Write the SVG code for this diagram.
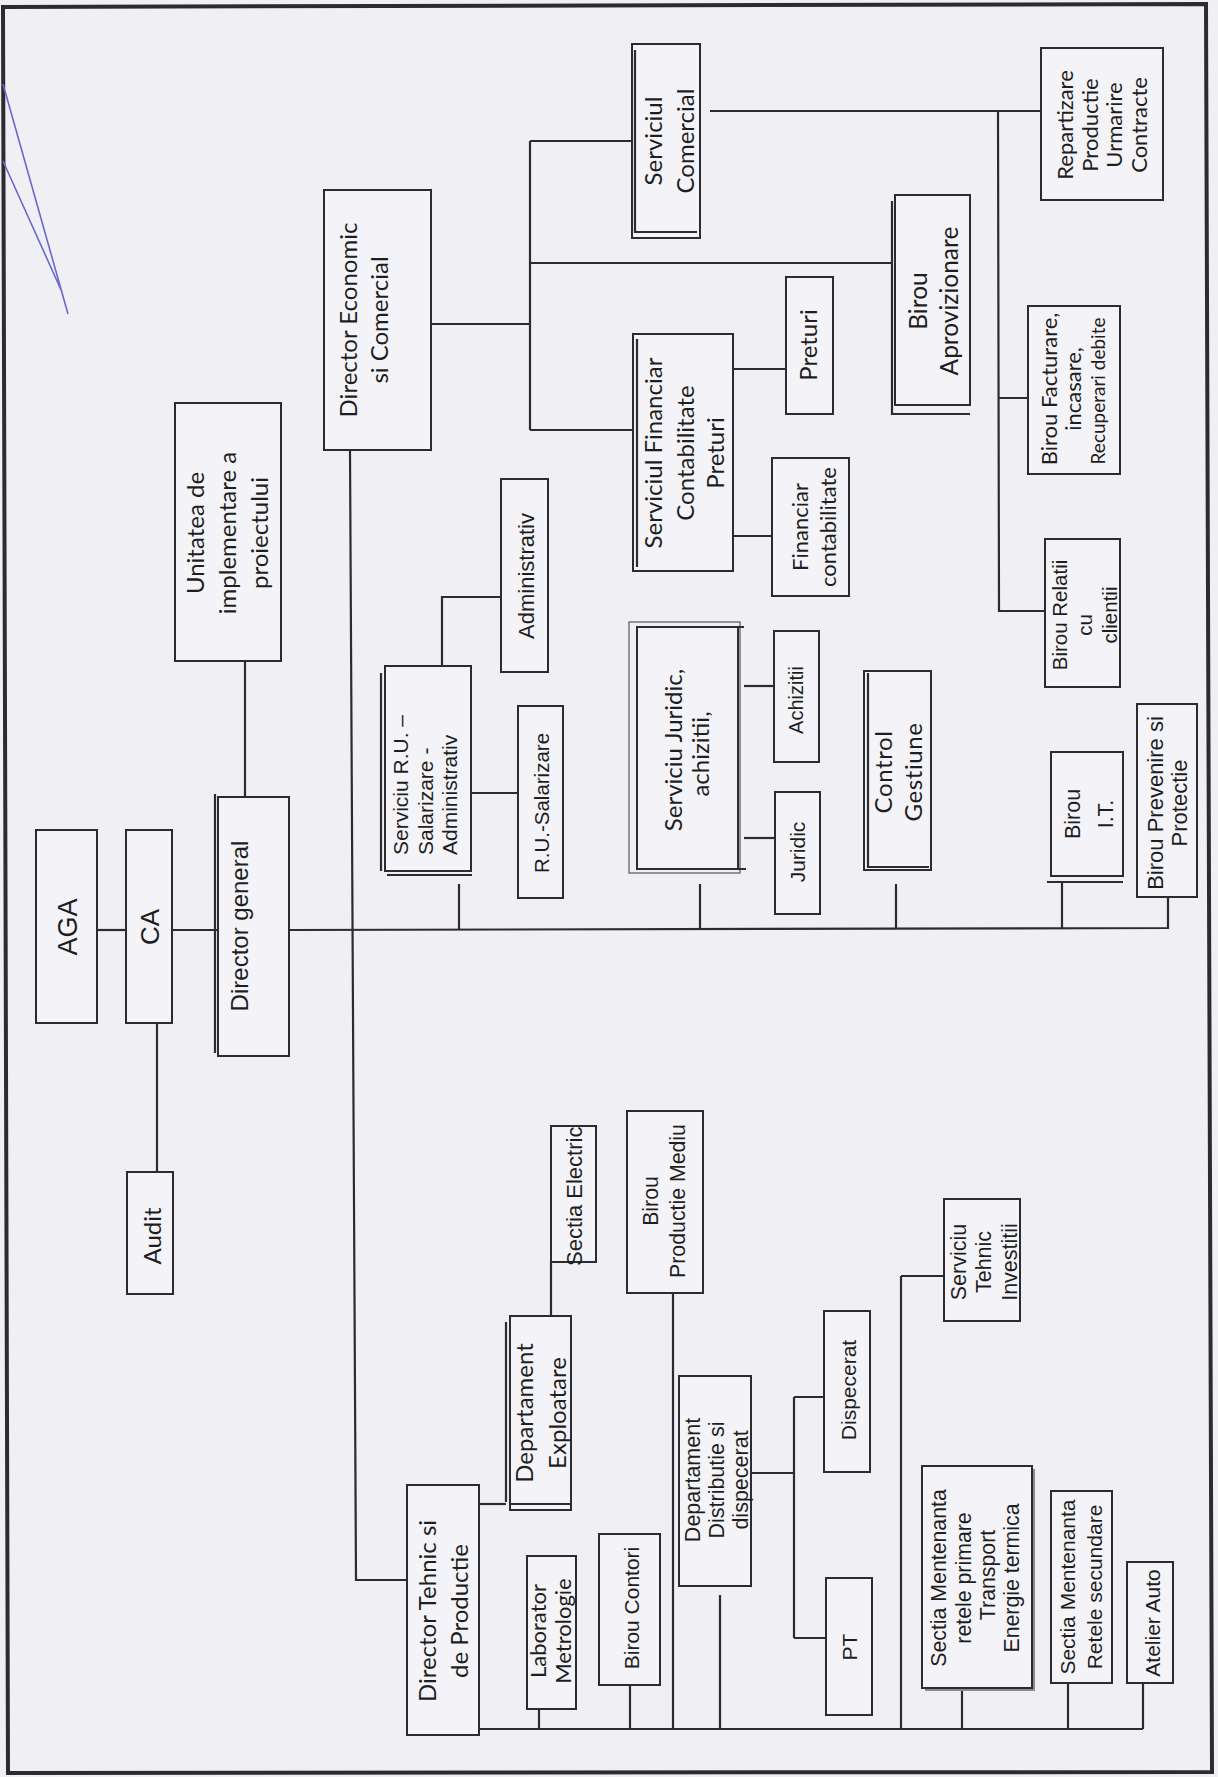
<svg xmlns="http://www.w3.org/2000/svg" width="1218" height="1777" viewBox="0 0 1218 1777">
<defs>
<style>
.bg{fill:#efeff4}
.box{fill:#f4f4f8;stroke:#2b2b30;stroke-width:2}
.thin{fill:none;stroke:#55555a;stroke-width:1.2}
.ln{fill:none;stroke:#2b2b30;stroke-width:2.2}
.ar{font-family:"Liberation Sans",Arial,sans-serif;fill:#1e1e22;text-anchor:middle}
.cb{font-family:Lato,"Open Sans",sans-serif;fill:#1e1e22;text-anchor:middle}
.st{text-anchor:start}
</style>
<clipPath id="clipSE" clipPathUnits="userSpaceOnUse"><rect x="551" y="1127" width="45" height="140"/></clipPath>
</defs>
<rect class="bg" x="0" y="0" width="1218" height="1777"/>
<polygon points="3,7 1206,4 1212,1772 8,1773" fill="none" stroke="#2b2b30" stroke-width="4"/>
<path d="M3,84 L68,314 M3,161 L62,292" fill="none" stroke="#6b68cf" stroke-width="1.6"/>

<g id="connectors">
<path class="ln" d="M97,930 H126"/>
<path class="ln" d="M172,930 H218"/>
<path class="ln" d="M157,1023 V1172"/>
<path class="ln" d="M245,661 V797"/>
<path class="ln" d="M290,930 L1168,928 V897"/>
<path class="ln" d="M459,884 V929"/>
<path class="ln" d="M700,884 V928"/>
<path class="ln" d="M896,884 V928"/>
<path class="ln" d="M1062,882 V928"/>
<path class="ln" d="M442,666 V597 H501"/>
<path class="ln" d="M472,793 H518"/>
<path class="ln" d="M744,686 H774"/>
<path class="ln" d="M744,838 H775"/>
<path class="ln" d="M350,450 L356,1580 H407"/>
<path class="ln" d="M425,324 H530 M530,141 V430 M530,141 H632 M530,263 H892 M530,430 H633"/>
<path class="ln" d="M727,369 H786"/>
<path class="ln" d="M729,536 H772"/>
<path class="ln" d="M710,111 H1041 M998,111 L999,611 H1045 M998,398 H1028"/>
<path class="ln" d="M479,1504 H506"/>
<path class="ln" d="M551,1316 V1262"/>
<path class="ln" d="M479,1729 H1143"/>
<path class="ln" d="M539,1709 V1729"/>
<path class="ln" d="M630,1685 V1729"/>
<path class="ln" d="M673,1292 V1729"/>
<path class="ln" d="M720,1595 V1729"/>
<path class="ln" d="M751,1473 H794 M794,1397 V1638 M794,1397 H824 M794,1638 H827"/>
<path class="ln" d="M901,1276 V1729 M901,1276 H944"/>
<path class="ln" d="M962,1688 V1729"/>
<path class="ln" d="M1068,1683 V1729"/>
<path class="ln" d="M1143,1683 V1729"/>
</g>

<g id="aga"><rect class="box" x="36" y="830" width="61" height="193"/>
<text class="ar" font-size="27" transform="translate(77,927) rotate(-90)">AGA</text></g>

<g id="ca"><rect class="box" x="126" y="830" width="46" height="193"/>
<text class="ar" font-size="26" transform="translate(159,927) rotate(-90)">CA</text></g>

<g id="audit"><rect class="box" x="127" y="1172" width="46" height="122"/>
<text class="cb" font-size="24" transform="translate(161,1236) rotate(-90)">Audit</text></g>

<g id="director-general"><rect class="box" x="218" y="797" width="71" height="259"/>
<path class="ln" d="M215,794 V1053"/>
<text class="ar" font-size="24" transform="translate(248,926) rotate(-90)">Director general</text></g>

<g id="unitatea"><rect class="box" x="175" y="403" width="106" height="258"/>
<text class="cb" font-size="24" transform="translate(204,533) rotate(-90)"><tspan x="0" y="0">Unitatea de</tspan><tspan x="0" y="32">implementare a</tspan><tspan x="0" y="64">proiectului</tspan></text></g>

<g id="director-economic"><rect class="box" x="324" y="190" width="107" height="260"/>
<text class="cb" font-size="24" transform="translate(357,320) rotate(-90)"><tspan x="0" y="0">Director Economic</tspan><tspan x="0" y="31">si Comercial</tspan></text></g>

<g id="serviciu-ru"><rect class="box" x="385" y="666" width="86" height="205"/>
<path class="ln" d="M381,673 V871 M387,875 H472" stroke-width="1.6"/>
<text class="ar st" font-size="21" transform="translate(408,855) rotate(-90)"><tspan x="0" y="0">Serviciu R.U. –</tspan><tspan x="0" y="25">Salarizare -</tspan><tspan x="0" y="49">Administrativ</tspan></text></g>

<g id="administrativ"><rect class="box" x="501" y="479" width="47" height="193"/>
<text class="ar" font-size="22" transform="translate(534,576) rotate(-90)">Administrativ</text></g>

<g id="ru-salarizare"><rect class="box" x="518" y="706" width="45" height="192"/>
<text class="ar" font-size="20.5" transform="translate(549,803) rotate(-90)">R.U.-Salarizare</text></g>

<g id="serviciu-juridic"><rect class="thin" x="629" y="622" width="111" height="251"/>
<rect class="box" x="637" y="627" width="101" height="242"/>
<path class="ln" d="M738,627 H744 M738,869 H746" stroke-width="1.6"/>
<text class="cb" font-size="24" transform="translate(682,750) rotate(-90)"><tspan x="0" y="0">Serviciu Juridic,</tspan><tspan x="-4" y="27">achizitii,</tspan></text></g>

<g id="achizitii"><rect class="box" x="774" y="631" width="45" height="131"/>
<text class="ar" font-size="20" transform="translate(803,700) rotate(-90)">Achizitii</text></g>

<g id="juridic"><rect class="box" x="775" y="792" width="45" height="122"/>
<text class="ar" font-size="21" transform="translate(805,852) rotate(-90)">Juridic</text></g>

<g id="control-gestiune"><rect class="box" x="864" y="671" width="67" height="199"/>
<path class="ln" d="M868,673 V867 H929" stroke-width="1.6"/>
<text class="cb" font-size="24" letter-spacing="0.6" transform="translate(892,772) rotate(-90)"><tspan x="0" y="0">Control</tspan><tspan x="0" y="30">Gestiune</tspan></text></g>

<g id="birou-it"><rect class="box" x="1051" y="752" width="72" height="124"/>
<path class="ln" d="M1047,882 H1123" stroke-width="1.8"/>
<text class="ar" font-size="21.5" transform="translate(1080,814) rotate(-90)"><tspan x="0" y="0">Birou</tspan><tspan x="0" y="33">I.T.</tspan></text></g>

<g id="birou-prevenire"><rect class="box" x="1137" y="704" width="60" height="193"/>
<text class="ar" font-size="22" transform="translate(1163,803) rotate(-90)"><tspan x="0" y="0">Birou Prevenire si</tspan><tspan x="0" y="24">Protectie</tspan></text></g>

<g id="serviciul-comercial"><rect class="box" x="632" y="44" width="68" height="194"/>
<path class="ln" d="M635,50 V232 H697" stroke-width="1.6"/>
<text class="cb" font-size="24" transform="translate(662,141) rotate(-90)"><tspan x="0" y="0">Serviciul</tspan><tspan x="0" y="32">Comercial</tspan></text></g>

<g id="serviciul-financiar"><rect class="box" x="633" y="334" width="100" height="237"/>
<path class="ln" d="M637,339 V567" stroke-width="1.6"/>
<text class="cb" font-size="24" transform="translate(662,453) rotate(-90)"><tspan x="0" y="0">Serviciul Financiar</tspan><tspan x="0" y="32">Contabilitate</tspan><tspan x="0" y="62">Preturi</tspan></text></g>

<g id="preturi"><rect class="box" x="786" y="277" width="47" height="137"/>
<text class="cb" font-size="24" transform="translate(817,345) rotate(-90)">Preturi</text></g>

<g id="financiar-contabilitate"><rect class="box" x="772" y="458" width="77" height="138"/>
<text class="cb" font-size="22" transform="translate(808,527) rotate(-90)"><tspan x="0" y="0">Financiar</tspan><tspan x="0" y="28">contabilitate</tspan></text></g>

<g id="birou-aprovizionare"><rect class="box" x="895" y="195" width="75" height="210"/>
<path class="ln" d="M892,201 V414 H970" stroke-width="1.8"/>
<text class="cb" font-size="24.5" transform="translate(927,301) rotate(-90)"><tspan x="0" y="0">Birou</tspan><tspan x="0" y="31">Aprovizionare</tspan></text></g>

<g id="repartizare"><rect class="box" x="1041" y="48" width="122" height="152"/>
<text class="cb" font-size="22" transform="translate(1073,125) rotate(-90)"><tspan x="0" y="0">Repartizare</tspan><tspan x="0" y="24.5">Productie</tspan><tspan x="0" y="49">Urmarire</tspan><tspan x="0" y="73.5">Contracte</tspan></text></g>

<g id="birou-facturare"><rect class="box" x="1028" y="306" width="92" height="168"/>
<text class="cb" font-size="22" transform="translate(1057,389) rotate(-90)"><tspan x="0" y="0">Birou Facturare,</tspan><tspan x="0" y="24">incasare,</tspan></text>
<text class="cb" font-size="19" transform="translate(1105,391) rotate(-90)">Recuperari debite</text></g>

<g id="birou-relatii"><rect class="box" x="1045" y="539" width="75" height="148"/>
<text class="ar" font-size="20.5" transform="translate(1067,615) rotate(-90)"><tspan x="0" y="0">Birou Relatii</tspan><tspan x="-10" y="25">cu</tspan><tspan x="0" y="50">clientii</tspan></text></g>

<g id="director-tehnic"><rect class="box" x="407" y="1485" width="72" height="250"/>
<text class="cb" font-size="24" transform="translate(436,1611) rotate(-90)"><tspan x="0" y="0">Director Tehnic si</tspan><tspan x="0" y="32">de Productie</tspan></text></g>

<g id="departament-exploatare"><rect class="box" x="510" y="1316" width="61" height="194"/>
<path class="ln" d="M506,1322 V1502 M510,1504 H570" stroke-width="1.6"/>
<text class="cb" font-size="24" transform="translate(533,1413) rotate(-90)"><tspan x="0" y="0">Departament</tspan><tspan x="0" y="33">Exploatare</tspan></text></g>

<g id="sectia-electric"><rect class="box" x="551" y="1126" width="45" height="136"/>
<g clip-path="url(#clipSE)"><text class="ar st" font-size="22" transform="translate(582,1266) rotate(-90)">Sectia Electric</text></g></g>

<g id="birou-productie-mediu"><rect class="box" x="627" y="1111" width="76" height="182"/>
<text class="ar" font-size="21.3" transform="translate(658,1201) rotate(-90)"><tspan x="0" y="0">Birou</tspan><tspan x="0" y="27">Productie Mediu</tspan></text></g>

<g id="laborator-metrologie"><rect class="box" x="527" y="1556" width="49" height="153"/>
<text class="cb" font-size="22" transform="translate(546,1631) rotate(-90)"><tspan x="0" y="0">Laborator</tspan><tspan x="0" y="25">Metrologie</tspan></text></g>

<g id="birou-contori"><rect class="box" x="599" y="1534" width="61" height="151"/>
<text class="ar" font-size="21" transform="translate(639,1608) rotate(-90)">Birou Contori</text></g>

<g id="departament-distributie"><rect class="box" x="679" y="1376" width="72" height="210"/>
<text class="ar" font-size="21.5" transform="translate(700,1480) rotate(-90)"><tspan x="0" y="0">Departament</tspan><tspan x="0" y="24">Distributie si</tspan><tspan x="0" y="48">dispecerat</tspan></text></g>

<g id="dispecerat"><rect class="box" x="824" y="1311" width="46" height="161"/>
<text class="ar" font-size="21" transform="translate(856,1390) rotate(-90)">Dispecerat</text></g>

<g id="pt"><rect class="box" x="826" y="1578" width="46" height="137"/>
<text class="ar" font-size="21" transform="translate(857,1647) rotate(-90)">PT</text></g>

<g id="serviciu-tehnic"><rect class="box" x="944" y="1199" width="76" height="122"/>
<text class="ar" font-size="21.5" transform="translate(966,1262) rotate(-90)"><tspan x="0" y="0">Serviciu</tspan><tspan x="0" y="25">Tehnic</tspan><tspan x="0" y="51">Investitii</tspan></text></g>

<g id="sectia-mentenanta-primare"><rect class="box" x="922" y="1466" width="110" height="222"/>
<path d="M1034,1469 V1690 H925" fill="none" stroke="#8a8a90" stroke-width="2"/>
<text class="ar" font-size="21.3" transform="translate(946,1578) rotate(-90)"><tspan x="0" y="0">Sectia Mentenanta</tspan><tspan x="0" y="24.5">retele primare</tspan><tspan x="3" y="48.5">Transport</tspan><tspan x="0" y="73">Energie termica</tspan></text></g>

<g id="sectia-mentenanta-secundare"><rect class="box" x="1051" y="1491" width="61" height="192"/>
<text class="ar" font-size="21" transform="translate(1075,1587) rotate(-90)"><tspan x="0" y="0">Sectia Mentenanta</tspan><tspan x="0" y="27">Retele secundare</tspan></text></g>

<g id="atelier-auto"><rect class="box" x="1127" y="1562" width="46" height="121"/>
<text class="ar" font-size="21" transform="translate(1160,1623) rotate(-90)">Atelier Auto</text></g>
</svg>
